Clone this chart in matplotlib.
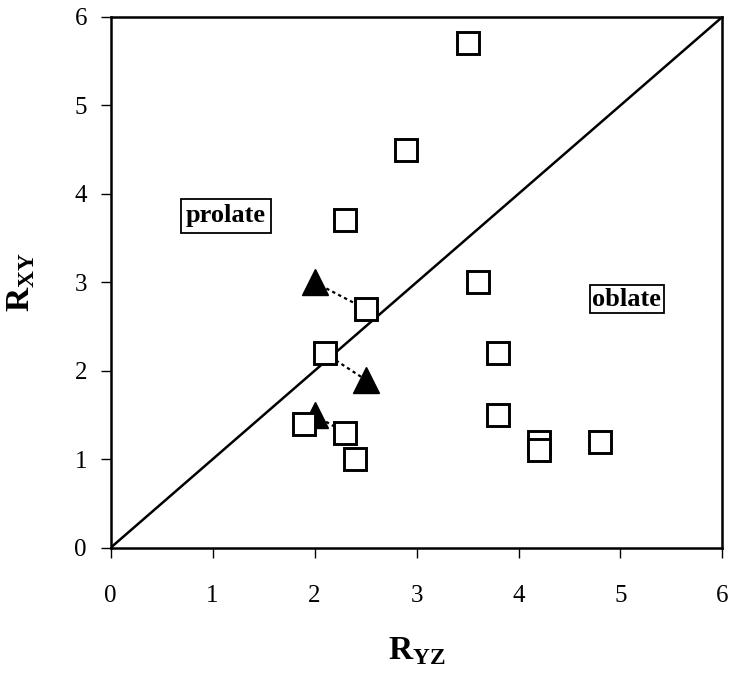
import matplotlib
matplotlib.use("Agg")
import matplotlib.pyplot as plt

plt.rcParams["font.family"] = ["Liberation Serif", "DejaVu Serif"]
plt.rcParams["mathtext.fontset"] = "custom"
plt.rcParams["mathtext.rm"] = "Liberation Serif"
plt.rcParams["mathtext.bf"] = "Liberation Serif:bold"

# squares (R_YZ, R_XY)
sq_x = [3.5, 2.9, 2.3, 2.5, 2.1, 1.9, 2.3, 2.4, 3.6, 3.8, 3.8, 4.2, 4.2, 4.8]
sq_y = [5.7, 4.5, 3.7, 2.7, 2.2, 1.4, 1.3, 1.0, 3.0, 2.2, 1.5, 1.2, 1.1, 1.2]

# triangles
tri_x = [2.0, 2.5, 2.0]
tri_y = [3.0, 1.9, 1.5]

# dotted links between paired points
link_from = [(2.0, 3.0), (2.1, 2.2), (2.0, 1.5)]
link_to = [(2.5, 2.7), (2.5, 1.9), (2.3, 1.3)]

fig = plt.figure(figsize=(7.32, 6.73), dpi=100)
ax = fig.add_axes([0.151, 0.186, 0.836, 0.789])

ax.plot([0, 6], [0, 6], color="black", linewidth=1.8, zorder=1)

for (x0, y0), (x1, y1) in zip(link_from, link_to):
    ax.plot([x0, x1], [y0, y1], color="black", linestyle=(0, (1.5, 1.5)),
            linewidth=1.6, zorder=2)

ax.plot(tri_x, tri_y, linestyle="none", marker="^", markersize=19,
        color="black", zorder=3)
ax.plot(sq_x, sq_y, linestyle="none", marker="s", markersize=16,
        markerfacecolor="white", markeredgecolor="black", markeredgewidth=2.1,
        zorder=4)

box = dict(boxstyle="square,pad=0.2", facecolor="white", edgecolor="black", linewidth=1.3)
ax.text(1.13, 3.75, "prolate", fontsize=19, fontweight="bold", ha="center",
        va="center", bbox=box)
ax.text(5.06, 2.81, "oblate", fontsize=19, fontweight="bold", ha="center",
        va="center", bbox=dict(boxstyle="square,pad=0.1", facecolor="white",
                               edgecolor="black", linewidth=1.3))

ax.set_xlim(0, 6)
ax.set_ylim(0, 6)
ax.set_xticks(range(7))
ax.set_yticks(range(7))
ax.tick_params(direction="out", length=7, width=1, labelsize=18, pad=20)
ax.tick_params(axis="y", pad=10)
for s in ax.spines.values():
    s.set_linewidth(1.8)

ax.set_xlabel(r"$\mathbf{R}_{\mathbf{YZ}}$", fontsize=24)
ax.set_ylabel(r"$\mathbf{R}_{\mathbf{XY}}$", fontsize=24)
ax.xaxis.set_label_coords(0.5, -0.165)
ax.yaxis.set_label_coords(-0.12, 0.5)

fig.savefig("out.png", dpi=100)
